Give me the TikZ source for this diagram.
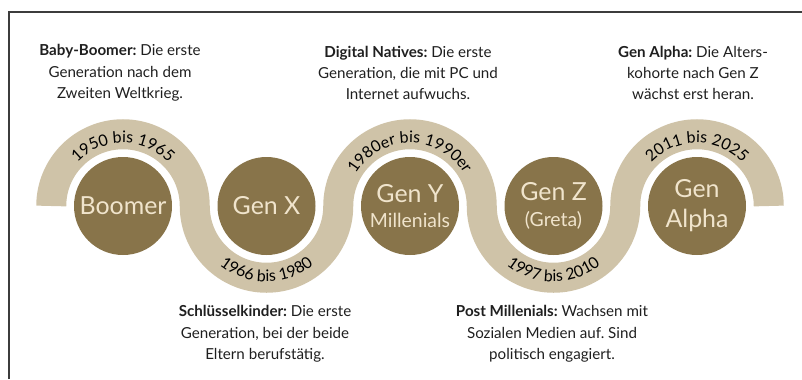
\documentclass[tikz,border=0pt]{standalone}
\usepackage{fontspec}
\setmainfont{Lato}
\usetikzlibrary{decorations.text}
\frenchspacing
\definecolor{bandtan}{RGB}{207,195,168}
\definecolor{genbrown}{RGB}{136,116,74}
\definecolor{gencream}{RGB}{240,228,204}
\definecolor{framegray}{RGB}{60,60,60}
\newcommand\yearfont{\fontsize{16}{16}\selectfont}
\newcommand\smallgen{\fontsize{19.5}{22}\selectfont}
\begin{document}
\begin{tikzpicture}[x=1bp,y=1bp,
  gen/.style={circle,fill=genbrown,minimum size=98bp,inner sep=0pt,
    text=gencream,align=center,font=\fontsize{25}{32}\selectfont},
  note/.style={align=center,text=black!88,
    font=\fontsize{15.2}{21.5}\selectfont},
  years/.style={decorate,decoration={text along path,text align=center,
    text={|\yearfont|#1}}}]
\useasboundingbox (0,0) rectangle (802,379);
% frame
\draw[framegray,line width=1.5bp] (9,0) -- (9,367) -- (802,367);
% generations
\node[gen] (boomer) at (123,173) {Boomer};
\node[gen] (genx) at (266.5,173) {Gen X};
\node[gen] (geny) at (410,173) {Gen Y\\[-6bp]{\smallgen Millenials}};
\node[gen] (genz) at (553.5,173) {Gen Z\\[-6bp]{\smallgen (Greta)}};
\node[gen] (alpha) at (697,173) {Gen\\[-2bp]Alpha};
% wave
\draw[bandtan,line width=30bp] ([xshift=-71.75bp]boomer.center)
  arc[start angle=180,end angle=0,radius=71.75]
  arc[start angle=180,end angle=360,radius=71.75]
  arc[start angle=180,end angle=0,radius=71.75]
  arc[start angle=180,end angle=360,radius=71.75]
  arc[start angle=180,end angle=0,radius=71.75];
% years along the wave
\path[years={1950 bis 1965}] ([shift={(150:63)}]boomer.center)
  arc[start angle=150,end angle=30,radius=63];
\path[years={1966 bis 1980}] ([shift={(210:75.5)}]genx.center)
  arc[start angle=210,end angle=330,radius=75.5];
\path[years={1980er bis 1990er}] ([shift={(165:63)}]geny.center)
  arc[start angle=165,end angle=15,radius=63];
\path[years={1997 bis 2010}] ([shift={(210:75.5)}]genz.center)
  arc[start angle=210,end angle=330,radius=75.5];
\path[years={2011 bis 2025}] ([shift={(150:63)}]alpha.center)
  arc[start angle=150,end angle=30,radius=63];
% notes
\node[note] (nboomer) at (120,306) {\textbf{Baby-Boomer:} Die erste\\Generation nach dem\\Zweiten Weltkrieg.};
\node[note] (ngenx) at (265,45) {\textbf{Schlüsselkinder:} Die erste\\Generation, bei der beide\\Eltern berufstätig.};
\node[note] (ngeny) at (408,306) {\textbf{Digital Natives:} Die erste\\Generation, die mit PC und\\Internet aufwuchs.};
\node[note] (ngenz) at (552,45) {\textbf{Post Millenials:} Wachsen mit\\Sozialen Medien auf. Sind\\politisch engagiert.};
\node[note] (nalpha) at (693,306) {\textbf{Gen Alpha:} Die Alters-\\kohorte nach Gen Z\\wächst erst heran.};
\end{tikzpicture}
\end{document}
